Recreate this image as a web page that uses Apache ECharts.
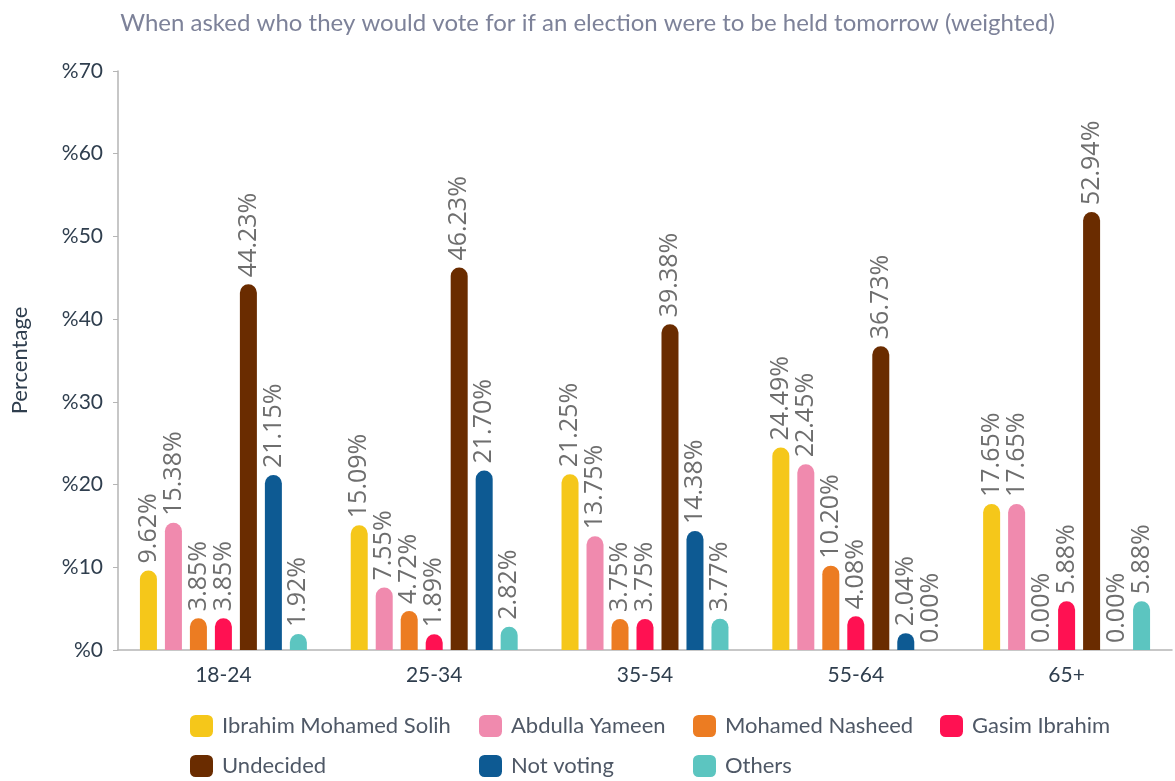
<!DOCTYPE html>
<html>

<head>
    <meta charset="utf-8">
    <title>Election poll by age</title>
    <style>
        html, body { margin: 0; padding: 0; background: #fff; }
        #chart-container { width: 1175px; height: 781px; }
    </style>
    <script src="https://cdn.jsdelivr.net/npm/echarts@6/dist/echarts.min.js"></script>
</head>

<body>
    <div id="chart-container"></div>
    <script>
        // age groups on the x axis
        const ageGroups = ['18-24', '25-34', '35-54', '55-64', '65+'];

        // one array per candidate, values in percent
        const solih = [9.62, 15.09, 21.25, 24.49, 17.65];
        const yameen = [15.38, 7.55, 13.75, 22.45, 17.65];
        const nasheed = [3.85, 4.72, 3.75, 10.20, 0.00];
        const gasim = [3.85, 1.89, 3.75, 4.08, 5.88];
        const undecided = [44.23, 46.23, 39.38, 36.73, 52.94];
        const notVoting = [21.15, 21.70, 14.38, 2.04, 0.00];
        const others = [1.92, 2.82, 3.77, 0.00, 5.88];

        const seriesNames = ['Ibrahim Mohamed Solih', 'Abdulla Yameen', 'Mohamed Nasheed', 'Gasim Ibrahim',
            'Undecided', 'Not voting', 'Others'];
        const seriesValues = [solih, yameen, nasheed, gasim, undecided, notVoting, others];
        const colors = ['#f5c71a', '#f08aae', '#ec7c22', '#ff1152', '#6a2c00', '#0d5a93', '#5cc5c0'];

        const dom = document.getElementById('chart-container');
        const myChart = echarts.init(dom, null, { renderer: 'canvas' });

        const legendBase = {
            orient: 'vertical',
            top: 715,
            padding: 0,
            itemWidth: 23,
            itemHeight: 22,
            itemGap: 18,
            icon: 'roundRect',
            textStyle: { fontFamily: 'Lato', fontSize: 22, color: '#4f5866', padding: [0, 0, 0, 4] }
        };
        // legend laid out in columns like the original
        const legendCols = [
            { left: 190, data: ['Ibrahim Mohamed Solih', 'Undecided'] },
            { left: 479, data: ['Abdulla Yameen', 'Not voting'] },
            { left: 693, data: ['Mohamed Nasheed', 'Others'] },
            { left: 940, data: ['Gasim Ibrahim'] }
        ];

        const series = seriesNames.map(function (name, i) {
            return {
                name: name,
                type: 'bar',
                data: seriesValues[i],
                barWidth: 17,
                barGap: '47%',
                itemStyle: { color: colors[i], borderRadius: [9, 9, 0, 0] },
                label: {
                    show: true,
                    position: 'top',
                    rotate: 90,
                    align: 'left',
                    verticalAlign: 'middle',
                    distance: 7,
                    fontFamily: 'Open Sans',
                    fontSize: 25,
                    color: '#6e6e6e',
                    formatter: function (p) { return p.value.toFixed(2) + '%'; }
                }
            };
        });

        const option = {
            color: colors,
            animation: false,
            title: {
                text: 'When asked who they would vote for if an election were to be held tomorrow (weighted)',
                left: 'center',
                top: 6,
                textStyle: { fontFamily: 'Lato', fontSize: 24, fontWeight: 'normal', color: '#7d8299' }
            },
            legend: legendCols.map(function (c) {
                return Object.assign({}, legendBase, c);
            }),
            grid: { left: 118, right: 3, top: 71, bottom: 131, containLabel: false },
            xAxis: {
                type: 'category',
                data: ageGroups,
                axisLine: { lineStyle: { color: '#b5b5b5', width: 1.5 } },
                axisTick: { alignWithLabel: true, length: 5, lineStyle: { color: '#b5b5b5' } },
                axisLabel: { margin: 15, fontFamily: 'Lato', fontSize: 21, color: '#2f3e4e' }
            },
            yAxis: {
                type: 'value',
                min: 0,
                max: 70,
                interval: 10,
                name: 'Percentage',
                nameLocation: 'middle',
                nameGap: 87,
                nameTextStyle: { fontFamily: 'Lato', fontSize: 22, color: '#2f3e4e' },
                splitLine: { show: false },
                axisLine: { show: true, lineStyle: { color: '#b5b5b5', width: 1.5 } },
                axisTick: { show: true, length: 5, lineStyle: { color: '#b5b5b5' } },
                axisLabel: {
                    margin: 15,
                    fontFamily: 'Lato',
                    fontSize: 21,
                    color: '#2f3e4e',
                    formatter: function (v) { return '%' + v; }
                }
            },
            series: series
        };

        myChart.setOption(option);
        window.addEventListener('resize', myChart.resize);
    </script>
</body>

</html>
